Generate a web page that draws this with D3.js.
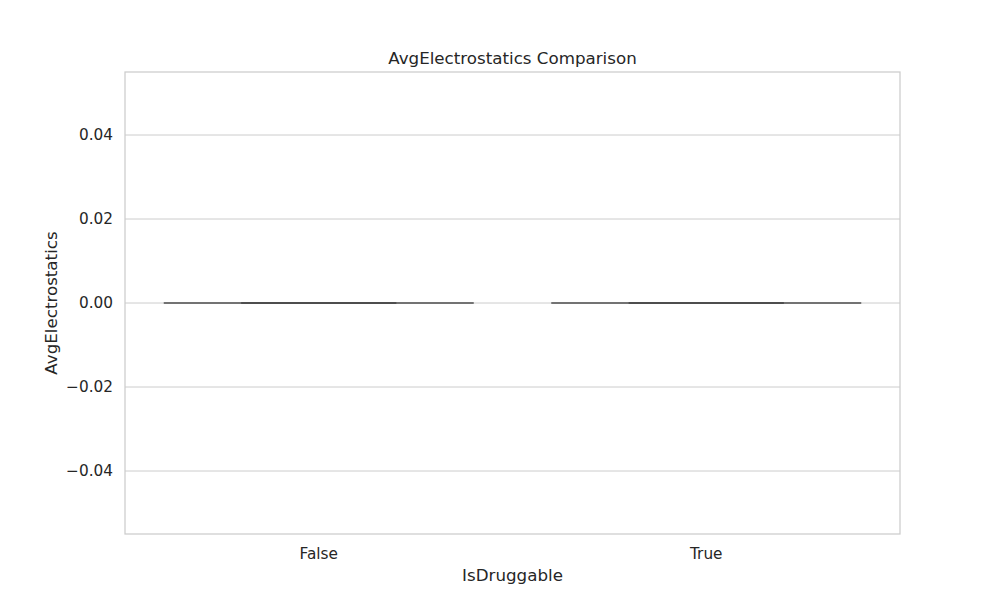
<!DOCTYPE html>
<html><head><meta charset="utf-8">
<script src="https://cdn.jsdelivr.net/npm/d3@7"></script>
<style>body{margin:0;background:#fff;} text{font-family:"DejaVu Sans",sans-serif;fill:#262626;}</style>
</head><body>
<svg id="c" width="1000" height="600"></svg>
<script>
const categories = ["False", "True"];
const q1Values = [0, 0];
const medianValues = [0, 0];
const q3Values = [0, 0];
const whiskerLow = [0, 0];
const whiskerHigh = [0, 0];
const yTicks = [-0.04, -0.02, 0, 0.02, 0.04];
const yDomain = [-0.055, 0.055];

const svg = d3.select("#c");
const m = {left:125, right:900, top:72, bottom:534};
const x = d3.scaleBand().domain(categories).range([m.left, m.right]);
const y = d3.scaleLinear().domain(yDomain).range([m.bottom, m.top]);

svg.append("g").selectAll("line").data(yTicks).join("line")
  .attr("x1", m.left).attr("x2", m.right)
  .attr("y1", d=>y(d)).attr("y2", d=>y(d))
  .attr("stroke", "#cccccc").attr("stroke-width", 1);

svg.append("rect").attr("x", m.left).attr("y", m.top)
  .attr("width", m.right-m.left).attr("height", m.bottom-m.top)
  .attr("fill", "none").attr("stroke", "#cccccc").attr("stroke-width", 1.25);

const yAxis = d3.axisLeft(y).tickValues(yTicks).tickSize(0).tickPadding(12)
  .tickFormat(d => d3.format(".2f")(d).replace("-", "\u2212"));
const ga = svg.append("g").attr("transform", `translate(${m.left},0)`).call(yAxis);
ga.select(".domain").remove();
ga.attr("font-size", null);
ga.selectAll("text").attr("font-size", 15.3).style("font-family", "DejaVu Sans").attr("fill", "#262626");

const xAxis = d3.axisBottom(x).tickSize(0).tickPadding(12);
const gx = svg.append("g").attr("transform", `translate(0,${m.bottom})`).call(xAxis);
gx.select(".domain").remove();
gx.attr("font-size", null);
gx.selectAll("text").attr("font-size", 15.3).attr("dy", "0.85em").style("font-family", "DejaVu Sans").attr("fill", "#262626");

const bw = x.bandwidth()*0.8;
const data = categories.map((c,i)=>({c, q1:q1Values[i], med:medianValues[i], q3:q3Values[i], lo:whiskerLow[i], hi:whiskerHigh[i]}));
const col = "#4d4d4d";
const g = svg.append("g");
data.forEach(d => {
  const cx = x(d.c) + x.bandwidth()/2;
  g.append("rect").attr("x", cx-bw/2).attr("width", bw)
    .attr("y", y(d.q3)).attr("height", Math.max(0, y(d.q1)-y(d.q3)))
    .attr("fill", "#3274a1").attr("stroke", col).attr("stroke-width", 1.5);
  g.append("line").attr("x1", cx).attr("x2", cx).attr("y1", y(d.q3)).attr("y2", y(d.hi)).attr("stroke", col).attr("stroke-width", 1.5);
  g.append("line").attr("x1", cx).attr("x2", cx).attr("y1", y(d.q1)).attr("y2", y(d.lo)).attr("stroke", col).attr("stroke-width", 1.5);
  [d.lo, d.hi].forEach(v => g.append("line").attr("x1", cx-bw/4).attr("x2", cx+bw/4).attr("y1", y(v)).attr("y2", y(v)).attr("stroke", col).attr("stroke-width", 1.5));
  g.append("line").attr("x1", cx-bw/2).attr("x2", cx+bw/2).attr("y1", y(d.med)).attr("y2", y(d.med)).attr("stroke", col).attr("stroke-width", 1.5);
});

svg.append("text").attr("x", (m.left+m.right)/2).attr("y", 64).attr("text-anchor", "middle")
  .attr("font-size", 16.7).text("AvgElectrostatics Comparison");
svg.append("text").attr("x", (m.left+m.right)/2).attr("y", 581).attr("text-anchor", "middle")
  .attr("font-size", 16.7).text("IsDruggable");
svg.append("text").attr("transform", `translate(57,${(m.top+m.bottom)/2}) rotate(-90)`).attr("text-anchor", "middle")
  .attr("font-size", 16.7).text("AvgElectrostatics");
</script>
</body></html>
